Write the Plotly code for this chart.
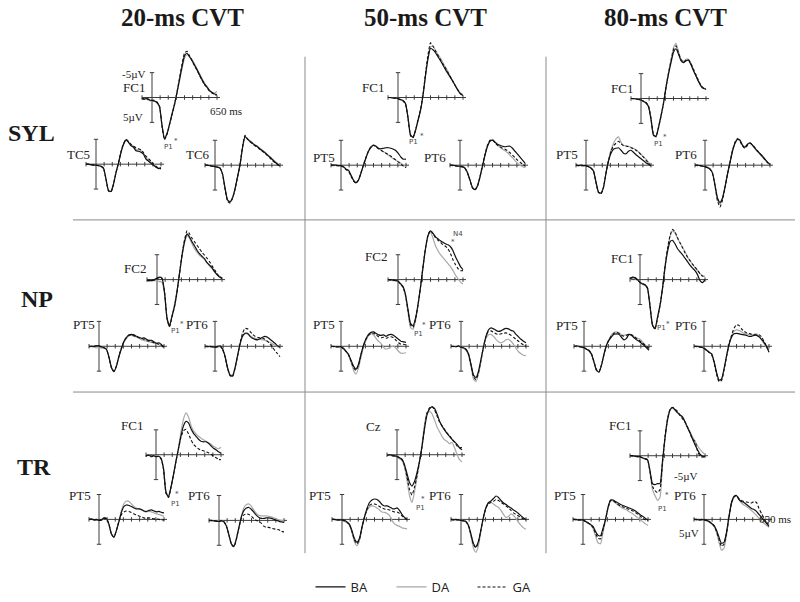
import plotly.graph_objects as go

W, H = 800, 602

TIMES_MS = [-100, -75, -50, -25, 0, 25, 50, 75, 100, 125, 150, 175, 200, 225, 250,
            275, 300, 325, 350, 375, 400, 425, 450, 475, 500, 525, 550, 575, 600, 625, 650]
TICKS_MS = [-100, 81.25, 162.5, 243.75, 325, 406.25, 487.5, 568.75, 650]
CONDITIONS = ["BA", "DA", "GA"]
COLUMNS = ["20-ms CVT", "50-ms CVT", "80-ms CVT"]
ROWS = ["SYL", "NP", "TR"]

# grand-average waveforms in µV (positive plotted downward); each tuple = (BA, DA, GA)
SYL20_FC1 = (
    [0.2, 0.3, 0.2, 0.5, 0.6, 0.7, 1.0, 1.8, 5.6, 8.3, 7.3, 5.4, 3.4, 1.4, -1.0, -3.6, -6.2, -8.4, -8.9, -8.2, -7.4, -6.5, -5.6, -4.6, -3.6, -2.7, -2.1, -1.4, -1.0, -0.7, -0.6],
    [0.3, 0.2, 0.4, 0.6, 0.8, 0.8, 1.1, 1.9, 5.5, 8.0, 7.2, 5.3, 3.2, 1.2, -1.0, -3.4, -5.8, -7.9, -8.6, -8.3, -7.6, -6.8, -5.8, -4.8, -3.8, -2.9, -2.2, -1.5, -1.1, -0.9, -1.2],
    [0.2, 0.4, 0.3, 0.4, 0.5, 0.6, 0.9, 1.7, 5.8, 8.5, 7.4, 5.5, 3.5, 1.5, -1.1, -3.9, -6.7, -8.9, -9.3, -8.4, -7.5, -6.4, -5.5, -4.4, -3.5, -2.6, -2.0, -1.3, -0.9, -0.6, -0.5],
)
SYL20_TC5 = (
    [0.0, 0.0, 0.1, 0.2, 0.2, 0.3, 0.4, 0.8, 3.0, 5.3, 5.5, 4.0, 1.7, -0.2, -2.4, -4.0, -4.9, -4.4, -3.7, -3.4, -2.7, -2.6, -2.4, -2.0, -1.0, -0.6, -0.2, 0.2, 0.6, 0.9, 0.7],
    [0.0, 0.1, 0.1, 0.2, 0.3, 0.3, 0.5, 0.9, 3.1, 5.2, 5.4, 3.9, 1.6, -0.2, -2.3, -3.9, -4.8, -4.5, -3.9, -3.6, -3.0, -2.9, -2.7, -2.2, -1.3, -0.8, -0.4, 0.0, 0.5, 0.8, 0.9],
    [0.0, 0.0, 0.1, 0.1, 0.2, 0.3, 0.4, 0.8, 3.0, 5.4, 5.6, 4.1, 1.7, -0.3, -2.5, -4.1, -5.0, -4.6, -4.0, -3.6, -3.3, -3.1, -2.9, -2.3, -1.6, -1.1, -0.6, 0.0, 0.4, 0.8, 0.9],
)
SYL20_TC6 = (
    [0.0, 0.0, 0.1, 0.2, 0.3, 0.4, 0.6, 1.8, 4.6, 7.0, 7.4, 6.6, 4.8, 2.4, 0.0, -3.5, -5.8, -5.2, -4.8, -4.4, -4.0, -3.7, -3.2, -2.9, -2.5, -2.0, -1.6, -1.1, -0.6, -0.2, 0.1],
    [0.0, 0.1, 0.1, 0.2, 0.3, 0.4, 0.6, 1.7, 4.5, 6.9, 7.3, 6.5, 4.7, 2.3, -0.1, -3.4, -5.6, -5.3, -4.9, -4.5, -4.1, -3.8, -3.4, -3.0, -2.6, -2.1, -1.7, -1.2, -0.8, -0.4, 0.0],
    [0.0, 0.0, 0.1, 0.2, 0.3, 0.4, 0.6, 1.8, 4.7, 7.2, 7.6, 6.7, 4.9, 2.4, -0.1, -3.7, -6.0, -5.3, -4.7, -4.3, -3.9, -3.6, -3.2, -2.8, -2.4, -1.9, -1.4, -0.9, -0.5, -0.1, 0.2],
)
SYL50_FC1 = (
    [0.0, 0.0, 0.1, 0.1, 0.2, 0.4, 0.6, 1.2, 4.0, 7.5, 8.0, 6.6, 4.6, 2.6, -0.4, -4.4, -7.8, -9.9, -9.6, -9.0, -8.2, -7.4, -6.5, -5.6, -4.8, -4.0, -3.2, -2.3, -1.4, -0.7, -0.4],
    [0.0, 0.1, 0.1, 0.1, 0.2, 0.4, 0.6, 1.2, 4.0, 7.6, 8.0, 6.7, 4.7, 2.6, -0.4, -4.4, -8.0, -10.2, -10.3, -9.5, -8.6, -7.9, -7.0, -6.1, -5.2, -4.2, -3.2, -2.3, -1.5, -0.9, -0.6],
    [0.0, 0.0, 0.1, 0.2, 0.3, 0.5, 0.7, 1.3, 4.2, 7.7, 8.1, 6.6, 4.5, 2.4, -0.6, -4.8, -8.6, -11.0, -10.3, -9.4, -8.5, -7.6, -6.7, -5.9, -5.0, -4.1, -3.2, -2.3, -1.5, -0.8, -0.4],
)
SYL50_PT5 = (
    [0.0, 0.0, 0.0, 0.1, 0.1, 0.3, 0.8, 1.0, 2.0, 3.0, 3.5, 3.0, 1.6, 0.0, -1.5, -2.8, -3.6, -4.0, -3.8, -3.4, -3.3, -3.4, -3.5, -3.5, -3.4, -3.2, -2.9, -2.3, -1.6, -1.2, -1.2],
    [0.0, 0.1, 0.0, 0.1, 0.2, 0.3, 0.8, 1.1, 2.1, 3.1, 3.5, 2.9, 1.5, 0.0, -1.5, -2.8, -3.7, -4.1, -3.8, -3.4, -3.0, -2.7, -2.4, -2.0, -1.6, -1.3, -1.0, -0.7, -0.4, 0.0, 0.3],
    [0.0, 0.0, 0.1, 0.1, 0.2, 0.4, 0.9, 1.2, 2.2, 3.2, 3.6, 3.0, 1.5, -0.1, -1.6, -2.9, -3.7, -4.0, -3.7, -3.3, -3.0, -2.7, -2.4, -2.1, -1.8, -1.4, -1.0, -0.6, -0.2, 0.2, 0.5],
)
SYL50_PT6 = (
    [0.0, 0.0, 0.1, 0.2, 0.2, 0.3, 0.6, 1.5, 3.0, 4.5, 4.9, 4.2, 2.4, 0.2, -2.0, -3.8, -4.8, -5.0, -4.6, -4.2, -4.0, -3.8, -3.7, -3.8, -3.8, -3.4, -2.8, -2.2, -1.6, -1.0, -0.4],
    [0.0, 0.0, 0.1, 0.1, 0.2, 0.3, 0.6, 1.5, 3.0, 4.5, 4.8, 4.0, 2.2, 0.1, -2.1, -3.9, -4.9, -5.2, -4.7, -4.1, -3.6, -3.2, -2.9, -2.5, -2.0, -1.5, -0.9, -0.4, 0.0, 0.3, 0.5],
    [0.0, 0.1, 0.1, 0.2, 0.3, 0.4, 0.7, 1.6, 3.1, 4.6, 5.0, 4.2, 2.3, 0.1, -2.2, -4.0, -5.0, -5.1, -4.5, -4.0, -3.7, -3.4, -3.2, -2.9, -2.5, -2.0, -1.5, -1.0, -0.6, -0.2, 0.1],
)
SYL80_FC1 = (
    [0.0, 0.0, 0.1, 0.2, 0.3, 0.6, 0.9, 1.6, 4.2, 7.4, 7.6, 5.8, 3.5, 1.0, -2.2, -4.9, -7.2, -9.3, -10.0, -8.9, -7.6, -7.2, -7.6, -7.7, -6.8, -5.6, -4.5, -3.4, -2.5, -2.0, -1.9],
    [0.0, 0.0, 0.0, 0.1, 0.3, 0.5, 0.9, 1.6, 4.1, 7.3, 7.7, 5.8, 3.4, 0.8, -2.4, -5.2, -7.8, -10.2, -11.1, -9.4, -7.9, -7.5, -7.9, -7.9, -7.0, -5.8, -4.6, -3.5, -2.6, -2.1, -2.0],
    [0.0, 0.1, 0.1, 0.2, 0.3, 0.5, 0.8, 1.5, 4.0, 7.2, 7.7, 5.9, 3.6, 1.0, -2.3, -5.1, -7.6, -9.8, -10.6, -9.2, -7.8, -7.3, -7.7, -7.8, -7.0, -5.9, -4.8, -3.6, -2.6, -2.1, -1.8],
)
SYL80_PT5 = (
    [0.0, 0.1, 0.0, 0.1, 0.1, 0.3, 0.6, 1.2, 3.4, 5.4, 5.6, 4.4, 1.6, -0.8, -2.4, -3.2, -3.4, -3.5, -3.0, -2.4, -2.3, -2.8, -3.0, -2.6, -2.1, -1.7, -1.3, -0.9, -0.5, -0.2, 0.1],
    [0.0, 0.0, 0.1, 0.1, 0.2, 0.3, 0.5, 1.1, 3.3, 5.4, 5.7, 4.4, 1.5, -1.0, -3.0, -4.4, -5.3, -5.7, -4.6, -4.0, -3.9, -3.8, -3.6, -3.4, -3.1, -2.7, -2.2, -1.7, -1.2, -0.6, 0.2],
    [0.0, 0.1, 0.1, 0.1, 0.2, 0.3, 0.6, 1.2, 3.5, 5.5, 5.8, 4.5, 1.6, -0.9, -2.8, -3.9, -4.4, -4.8, -4.3, -3.9, -3.8, -3.7, -3.5, -3.3, -3.0, -2.6, -2.1, -1.6, -1.0, -0.4, 0.2],
)
SYL80_PT6 = (
    [0.0, 0.0, 0.1, 0.2, 0.3, 0.5, 0.8, 1.6, 4.0, 6.6, 7.5, 6.6, 4.4, 1.8, -0.5, -2.8, -4.4, -5.2, -5.0, -4.0, -3.6, -4.2, -4.5, -4.0, -3.4, -2.8, -2.3, -1.8, -1.2, -0.6, -0.1],
    [0.0, 0.0, 0.1, 0.1, 0.3, 0.4, 0.7, 1.5, 3.9, 6.8, 7.8, 6.7, 4.4, 1.7, -0.6, -2.9, -4.5, -5.4, -5.0, -4.1, -3.7, -4.2, -4.5, -4.0, -3.4, -2.8, -2.2, -1.6, -1.0, -0.5, -0.1],
    [0.0, 0.1, 0.1, 0.2, 0.3, 0.5, 0.8, 1.7, 4.2, 7.2, 8.4, 7.0, 4.6, 1.8, -0.6, -3.0, -4.6, -5.3, -4.8, -3.8, -3.4, -4.0, -4.4, -4.1, -3.5, -2.9, -2.3, -1.7, -1.1, -0.5, 0.0],
)
NP20_FC2 = (
    [0.2, 0.1, 0.2, 0.0, -0.3, -0.5, -0.3, 2.5, 7.8, 9.4, 7.4, 5.4, 2.4, -1.2, -4.8, -7.6, -9.2, -8.6, -7.6, -6.8, -5.9, -5.2, -4.7, -4.2, -3.4, -2.9, -2.4, -1.6, -1.0, -0.5, -0.3],
    [0.2, 0.3, 0.2, 0.2, 0.3, 0.4, 0.5, 2.8, 7.6, 9.2, 7.2, 5.0, 2.2, -1.3, -4.8, -7.4, -8.9, -8.3, -7.2, -6.2, -5.5, -4.9, -4.5, -4.0, -3.4, -2.8, -2.2, -1.6, -1.0, -0.6, -0.3],
    [0.1, 0.2, 0.1, 0.1, -0.2, -0.4, -0.2, 2.4, 7.7, 9.5, 7.5, 5.5, 2.6, -1.2, -5.0, -8.0, -9.8, -9.2, -8.3, -7.6, -6.9, -6.2, -5.5, -4.9, -4.3, -3.6, -2.8, -2.0, -1.2, -0.6, -0.2],
)
NP20_PT5 = (
    [0.0, 0.0, 0.0, -0.1, -0.1, 0.1, 0.3, 0.6, 2.2, 4.3, 5.1, 4.0, 2.0, 0.4, -1.0, -1.8, -2.3, -2.4, -2.3, -2.0, -1.8, -1.6, -1.7, -1.4, -1.2, -1.2, -0.9, -0.6, -0.7, -0.3, 0.2],
    [0.0, 0.1, 0.2, 0.3, 0.3, 0.4, 0.4, 0.7, 2.3, 4.2, 4.9, 3.9, 2.0, 0.5, -0.8, -1.6, -2.1, -2.2, -2.0, -1.8, -1.6, -1.3, -1.2, -1.0, -0.9, -0.8, -0.6, -0.5, -0.3, 0.0, 0.3],
    [0.1, 0.0, 0.0, -0.1, 0.0, 0.2, 0.3, 0.6, 2.3, 4.4, 5.0, 3.9, 1.9, 0.3, -1.0, -1.8, -2.2, -2.3, -2.1, -1.9, -1.7, -1.6, -1.4, -1.2, -1.0, -0.9, -0.7, -0.6, -0.4, -0.1, 0.3],
)
NP20_PT6 = (
    [0.0, 0.1, 0.0, 0.1, 0.2, 0.0, -0.1, 0.5, 2.0, 4.3, 5.8, 6.0, 4.4, 2.0, -0.4, -2.0, -2.6, -2.6, -2.0, -1.6, -1.4, -1.3, -1.5, -1.8, -2.0, -1.8, -1.4, -1.0, -0.6, -0.1, 0.2],
    [0.0, 0.1, 0.1, 0.2, 0.3, 0.2, 0.1, 0.6, 2.0, 4.2, 5.7, 5.8, 4.2, 1.9, -0.4, -1.9, -2.5, -2.5, -2.1, -1.8, -1.6, -1.5, -1.4, -1.3, -1.2, -1.0, -0.8, -0.5, -0.2, 0.1, 0.3],
    [0.0, 0.0, 0.1, 0.1, 0.2, 0.1, 0.0, 0.6, 2.1, 4.4, 5.9, 6.1, 4.5, 2.0, -0.6, -2.6, -3.6, -3.5, -3.0, -2.4, -2.0, -1.8, -1.7, -1.6, -1.4, -1.0, -0.5, 0.2, 0.9, 1.5, 2.1],
)
NP50_FC2 = (
    [0.0, 0.0, 0.1, 0.2, 0.3, 0.8, 1.4, 3.0, 6.0, 8.8, 9.3, 7.8, 5.0, 1.5, -2.5, -6.2, -8.8, -9.8, -9.3, -8.6, -8.2, -7.8, -7.5, -7.2, -7.0, -6.6, -5.8, -4.6, -3.6, -2.6, -2.0],
    [0.1, 0.1, 0.2, 0.2, 0.4, 0.9, 1.6, 3.3, 6.6, 9.6, 10.0, 8.3, 5.3, 1.6, -2.5, -6.2, -8.8, -9.6, -8.3, -6.8, -5.8, -5.0, -4.4, -3.8, -3.2, -2.6, -1.8, -0.9, -0.2, 0.5, 0.9],
    [0.0, 0.1, 0.1, 0.2, 0.4, 0.9, 1.5, 3.1, 6.2, 9.1, 9.6, 8.0, 5.1, 1.5, -2.6, -6.4, -9.0, -9.9, -9.2, -8.4, -7.9, -7.5, -7.0, -6.7, -6.2, -5.2, -4.0, -3.0, -2.2, -1.8, -1.8],
)
NP50_PT5 = (
    [0.0, 0.0, 0.1, 0.1, 0.1, 0.4, 1.0, 1.6, 2.8, 4.0, 4.6, 3.6, 1.6, -0.2, -1.5, -2.4, -2.8, -2.9, -2.6, -2.3, -2.2, -2.3, -2.0, -2.3, -2.4, -2.2, -1.8, -1.4, -1.0, -0.9, -0.8],
    [0.0, 0.1, 0.1, 0.2, 0.3, 0.6, 1.1, 1.8, 3.2, 4.8, 5.6, 4.4, 2.2, 0.2, -1.2, -2.1, -2.5, -2.3, -1.6, -1.0, -0.6, 0.2, 0.6, 0.4, 0.1, 0.0, 0.4, 1.0, 1.4, 1.4, 1.3],
    [0.0, 0.1, 0.1, 0.1, 0.2, 0.5, 1.0, 1.7, 3.0, 4.3, 4.8, 3.8, 1.7, -0.2, -1.4, -2.2, -2.6, -2.6, -2.3, -1.9, -1.7, -1.8, -1.6, -1.8, -1.9, -1.7, -1.2, -0.7, -0.4, -0.4, -0.3],
)
NP50_PT6 = (
    [0.0, 0.0, 0.1, -0.1, 0.2, 0.3, 0.6, 1.5, 3.6, 5.8, 6.3, 5.0, 2.6, 0.1, -2.0, -3.3, -3.7, -3.5, -3.2, -3.0, -3.1, -3.4, -3.6, -3.5, -3.2, -3.0, -2.4, -1.9, -1.4, -1.0, -0.7],
    [0.0, 0.0, 0.1, 0.0, 0.2, 0.4, 0.8, 1.8, 4.1, 6.6, 7.1, 5.6, 3.0, 0.2, -1.6, -2.3, -2.4, -2.0, -1.4, -0.9, -0.7, -0.9, -1.3, -1.4, -1.0, -0.4, 0.4, 1.1, 1.5, 1.8, 1.9],
    [0.0, 0.1, 0.1, 0.0, 0.2, 0.3, 0.7, 1.6, 3.8, 6.1, 6.7, 5.3, 2.8, 0.1, -2.0, -3.0, -3.1, -2.8, -2.5, -2.4, -2.5, -2.6, -2.7, -2.5, -2.2, -1.8, -1.4, -1.0, -0.6, -0.3, 0.0],
)
NP80_FC1 = (
    [-0.2, -0.5, -0.4, 0.0, 0.6, 0.9, 1.1, 1.8, 5.4, 9.2, 9.9, 7.6, 5.2, 1.8, -2.4, -5.6, -7.6, -7.9, -7.2, -6.2, -5.6, -5.0, -4.3, -3.6, -2.9, -2.3, -1.8, -1.0, 0.2, 0.6, 0.0],
    [-0.1, -0.3, -0.2, 0.1, 0.5, 0.8, 1.0, 1.6, 5.0, 8.9, 9.8, 7.6, 5.1, 1.6, -2.6, -6.1, -8.6, -9.8, -9.4, -8.3, -7.4, -6.5, -5.6, -4.6, -3.8, -3.1, -2.4, -1.8, -1.2, -0.8, -0.6],
    [-0.2, -0.4, -0.3, 0.1, 0.5, 0.8, 1.0, 1.7, 5.2, 9.1, 10.0, 7.8, 5.3, 1.8, -2.6, -6.2, -8.8, -10.1, -9.6, -8.4, -7.4, -6.4, -5.4, -4.5, -3.8, -3.1, -2.5, -1.9, -1.2, -0.7, -0.5],
)
NP80_PT5 = (
    [0.0, -0.1, 0.0, 0.2, 0.3, 0.6, 0.9, 1.6, 3.2, 4.8, 5.2, 3.8, 1.6, -0.2, -1.2, -1.9, -2.4, -2.5, -2.4, -1.8, -1.3, -1.6, -2.4, -2.2, -1.7, -1.3, -1.0, -0.6, -0.2, 0.3, 0.8],
    [0.0, 0.1, 0.1, 0.2, 0.3, 0.6, 0.9, 1.6, 3.2, 4.9, 5.2, 3.8, 1.6, -0.3, -1.4, -2.3, -2.8, -2.9, -2.7, -2.3, -2.2, -2.3, -2.4, -2.2, -1.9, -1.7, -1.5, -1.1, -0.5, 0.0, 0.4],
    [0.0, 0.0, 0.1, 0.1, 0.3, 0.5, 0.8, 1.5, 3.1, 4.7, 5.1, 3.7, 1.6, -0.2, -1.3, -2.1, -2.6, -2.8, -2.6, -2.2, -2.0, -2.2, -2.4, -2.3, -2.0, -1.6, -1.2, -0.8, -0.4, 0.0, 0.4],
)
NP80_PT6 = (
    [0.0, 0.0, 0.1, 0.2, 0.4, 0.8, 1.2, 1.5, 3.0, 5.2, 6.8, 6.6, 4.6, 2.0, -0.3, -1.8, -2.5, -2.6, -2.5, -2.4, -2.3, -2.2, -2.0, -2.0, -2.2, -2.2, -1.9, -1.4, -0.8, 0.0, 1.2],
    [0.0, 0.0, 0.1, 0.2, 0.3, 0.7, 1.1, 1.5, 3.1, 5.4, 6.9, 6.7, 4.7, 2.0, -0.4, -2.0, -3.0, -3.3, -3.2, -2.9, -2.6, -2.5, -2.4, -2.3, -2.4, -2.5, -2.1, -1.3, -0.5, 0.2, 0.7],
    [0.0, 0.1, 0.1, 0.2, 0.4, 0.8, 1.2, 1.6, 3.2, 5.6, 7.1, 6.9, 4.8, 2.1, -0.4, -2.2, -3.6, -4.3, -4.2, -3.5, -3.0, -2.7, -2.6, -2.4, -2.3, -2.3, -2.3, -1.9, -1.0, 0.0, 1.0],
)
TR20_FC1 = (
    [0.2, 0.1, 0.3, 0.2, 0.4, 0.3, 0.7, 2.8, 7.6, 8.5, 6.5, 4.0, 1.3, -1.2, -3.8, -5.8, -6.7, -6.4, -5.2, -4.3, -3.7, -3.1, -2.7, -2.6, -2.6, -2.3, -1.8, -1.3, -1.0, -0.6, -0.3],
    [0.1, 0.0, 0.2, 0.1, 0.2, 0.3, 0.7, 2.7, 7.4, 8.4, 6.4, 4.0, 1.2, -1.5, -4.6, -7.2, -8.4, -7.6, -5.9, -4.8, -4.2, -3.7, -3.3, -3.0, -2.7, -2.4, -2.1, -1.7, -1.4, -1.2, -1.5],
    [0.3, 0.1, 0.4, 0.3, 0.3, 0.4, 0.8, 2.9, 7.7, 8.6, 6.6, 4.0, 1.3, -1.2, -3.6, -4.8, -5.1, -4.2, -3.0, -2.1, -1.6, -1.2, -0.9, -0.8, -0.6, -0.4, -0.1, 0.3, 0.6, 0.9, 1.0],
)
TR20_PT5 = (
    [0.0, -0.1, 0.1, 0.0, 0.2, 0.1, -0.3, -0.2, 1.0, 3.0, 3.6, 2.2, 0.4, -1.5, -2.6, -2.9, -2.8, -2.6, -2.3, -2.1, -2.1, -2.0, -1.7, -1.6, -1.8, -1.9, -1.7, -1.5, -1.6, -1.4, -1.3],
    [0.1, 0.0, 0.1, 0.1, 0.2, 0.2, -0.2, -0.2, 1.0, 2.9, 3.5, 2.1, 0.3, -1.8, -3.2, -3.7, -3.6, -3.1, -2.6, -2.3, -2.1, -1.9, -1.6, -1.5, -1.6, -1.5, -1.3, -1.1, -1.0, -0.8, -0.6],
    [0.0, 0.0, 0.1, 0.1, 0.2, 0.1, -0.2, -0.1, 1.1, 3.0, 3.5, 2.1, 0.3, -1.0, -1.5, -1.7, -1.6, -1.4, -1.1, -0.9, -0.7, -0.5, -0.3, -0.2, -0.3, -0.2, -0.1, -0.1, 0.0, 0.1, 0.1],
)
TR20_PT6 = (
    [0.0, 0.0, 0.1, 0.2, 0.2, 0.1, 0.3, 1.2, 3.0, 4.8, 5.2, 3.6, 1.4, -0.8, -2.0, -2.5, -2.6, -2.2, -1.6, -1.0, -0.6, -0.4, -0.4, -0.5, -0.5, -0.4, -0.2, 0.0, 0.2, 0.3, 0.4],
    [0.0, 0.0, 0.1, 0.1, 0.1, 0.0, 0.3, 1.1, 2.9, 4.7, 5.1, 3.5, 1.2, -1.0, -2.6, -3.2, -3.3, -2.8, -2.0, -1.4, -1.0, -0.9, -0.9, -0.9, -0.8, -0.7, -0.5, -0.3, -0.1, 0.0, 0.1],
    [0.0, 0.1, 0.1, 0.1, 0.2, 0.1, 0.3, 1.2, 3.0, 4.9, 5.3, 3.7, 1.4, -0.5, -1.1, -1.3, -1.2, -0.8, -0.3, 0.0, 0.2, 0.6, 1.2, 1.4, 1.4, 1.6, 1.7, 1.8, 1.9, 2.2, 2.3],
)
TR50_CZ = (
    [0.1, 0.0, 0.1, 0.2, 0.3, 0.6, 0.9, 2.0, 3.8, 5.6, 6.3, 5.4, 3.6, 1.3, -1.6, -5.2, -8.0, -9.2, -9.6, -9.3, -8.2, -6.8, -5.8, -5.0, -4.3, -3.7, -3.1, -2.6, -2.1, -1.4, -1.0],
    [0.1, 0.1, 0.2, 0.3, 0.4, 0.8, 1.2, 2.5, 5.2, 8.2, 9.6, 7.5, 4.6, 1.5, -2.0, -6.0, -8.4, -8.7, -8.2, -7.0, -5.6, -4.6, -3.7, -3.0, -2.7, -2.2, -2.5, -1.4, -0.1, 1.0, 1.4],
    [0.1, 0.0, 0.2, 0.3, 0.4, 0.7, 1.0, 2.2, 4.4, 7.0, 8.1, 6.5, 4.2, 1.5, -1.6, -5.4, -8.4, -9.4, -9.7, -9.0, -7.8, -6.6, -5.8, -5.1, -4.4, -3.8, -3.2, -2.5, -1.8, -1.4, -1.5],
)
TR50_PT5 = (
    [0.0, 0.0, 0.1, 0.1, 0.1, 0.2, 0.5, 1.0, 2.3, 3.9, 4.6, 3.8, 1.5, -0.5, -2.2, -3.4, -3.9, -4.1, -4.0, -3.6, -3.0, -2.7, -2.7, -2.5, -2.2, -2.1, -2.3, -1.8, -1.0, -0.4, 0.0],
    [0.0, 0.1, 0.1, 0.1, 0.2, 0.4, 0.7, 1.2, 2.6, 4.5, 5.3, 4.2, 1.7, -0.4, -1.8, -2.5, -2.7, -2.6, -2.3, -1.9, -1.5, -1.4, -1.2, -0.8, 0.2, 0.9, 1.2, 1.4, 1.7, 1.8, 1.9],
    [0.0, 0.0, 0.1, 0.1, 0.2, 0.3, 0.6, 1.1, 2.5, 4.2, 4.9, 4.0, 1.6, -0.5, -2.0, -2.8, -3.1, -3.1, -2.9, -2.6, -2.3, -2.1, -2.0, -1.9, -1.7, -1.5, -1.5, -1.2, -0.7, -0.3, 0.0],
)
TR50_PT6 = (
    [0.0, 0.1, 0.0, 0.1, 0.2, 0.3, 0.4, 1.2, 3.0, 4.9, 5.5, 4.4, 2.0, -0.5, -2.4, -3.4, -3.7, -4.2, -4.7, -4.4, -3.8, -3.3, -3.0, -2.6, -2.3, -1.9, -1.6, -1.2, -0.7, -0.3, 0.0],
    [0.0, 0.0, 0.1, 0.1, 0.2, 0.3, 0.5, 1.4, 3.4, 5.8, 6.6, 5.2, 2.3, -0.4, -2.3, -3.3, -3.4, -3.1, -2.7, -2.4, -1.8, -1.0, -0.4, -0.6, -1.1, -0.8, -0.2, 0.6, 1.2, 1.7, 2.0],
    [0.0, 0.1, 0.1, 0.1, 0.2, 0.3, 0.5, 1.3, 3.1, 5.1, 5.7, 4.5, 2.0, -0.5, -2.3, -3.2, -3.4, -3.6, -4.0, -3.8, -3.4, -3.1, -2.7, -2.3, -1.8, -1.3, -1.0, -0.7, -0.4, -0.1, 0.2],
)
TR80_FC1 = (
    [0.0, 0.0, 0.1, 0.2, 0.2, 0.4, 0.6, 0.8, 3.0, 5.6, 5.8, 5.6, 5.6, 1.0, -3.6, -7.2, -9.2, -9.7, -9.2, -8.6, -8.2, -7.8, -6.8, -5.6, -4.6, -3.4, -2.2, -1.2, -0.3, 0.1, 0.2],
    [0.0, 0.0, 0.1, 0.2, 0.3, 0.5, 0.7, 0.9, 3.4, 6.8, 8.0, 9.0, 8.4, 1.8, -3.4, -7.0, -9.1, -9.6, -9.3, -8.8, -8.2, -7.6, -6.8, -5.8, -4.8, -3.8, -2.9, -2.0, -1.3, -0.7, -0.3],
    [0.0, 0.1, 0.1, 0.2, 0.3, 0.4, 0.6, 0.8, 3.2, 6.2, 7.0, 7.4, 6.8, 1.3, -3.8, -7.4, -9.3, -9.7, -9.4, -8.9, -8.1, -7.4, -6.8, -5.8, -4.6, -3.3, -2.9, -1.0, 0.1, 0.3, 0.2],
)
TR80_PT5 = (
    [0.0, 0.0, 0.1, 0.1, 0.1, 0.4, 0.7, 1.0, 1.4, 2.4, 3.2, 3.3, 1.8, 0.0, -2.4, -3.9, -3.9, -3.6, -3.3, -3.0, -2.8, -2.6, -2.4, -2.2, -2.0, -1.7, -1.3, -0.9, -0.6, -0.2, 0.2],
    [0.0, 0.0, 0.1, 0.1, 0.2, 0.4, 0.8, 1.1, 1.8, 3.3, 4.7, 4.9, 2.6, 0.3, -2.2, -3.7, -3.7, -3.3, -2.9, -2.5, -2.2, -2.0, -1.7, -1.4, -1.1, -0.7, -0.3, 0.1, 0.5, 0.9, 1.2],
    [0.0, 0.1, 0.1, 0.1, 0.2, 0.4, 0.7, 1.0, 1.6, 2.8, 3.8, 3.9, 2.1, 0.1, -2.3, -3.8, -3.8, -3.4, -3.0, -2.7, -2.5, -2.3, -2.1, -1.9, -1.7, -1.4, -1.0, -0.6, -0.2, 0.1, 0.3],
)
TR80_PT6 = (
    [0.0, 0.0, 0.1, 0.0, 0.1, 0.2, 0.4, 0.8, 1.2, 2.2, 3.6, 4.8, 4.6, 2.6, -0.6, -3.4, -4.6, -4.8, -4.0, -3.6, -3.4, -3.0, -2.6, -2.2, -2.0, -1.6, -1.0, -0.4, 0.2, 0.8, 1.4],
    [0.0, 0.0, 0.0, 0.1, 0.2, 0.3, 0.5, 0.9, 1.4, 2.6, 4.6, 6.2, 5.8, 3.2, -0.3, -3.2, -4.4, -4.7, -4.0, -3.3, -2.9, -2.6, -2.2, -1.8, -1.3, -0.8, -0.2, 0.3, 0.8, 1.2, 1.6],
    [0.0, 0.1, 0.1, 0.1, 0.1, 0.2, 0.4, 0.8, 1.3, 2.4, 4.0, 5.4, 5.0, 2.8, -0.5, -3.3, -4.5, -4.8, -4.2, -3.8, -3.6, -3.5, -3.4, -3.3, -3.6, -3.4, -2.2, -1.2, -0.2, 0.6, 1.0],
)

# placement of each mini plot: data, electrode, origin (px), label offset (px)
PLOTS = [
    (SYL20_FC1, "FC1", 152, 98, -5, -10), (SYL20_TC5, "TC5", 96, 165, -4, -10), (SYL20_TC6, "TC6", 215, 166, -3, -11),
    (SYL50_FC1, "FC1", 398, 98, -12, -10), (SYL50_PT5, "PT5", 341, 166, -4, -8), (SYL50_PT6, "PT6", 460, 166, -12, -8),
    (SYL80_FC1, "FC1", 641, 99, -6, -10), (SYL80_PT5, "PT5", 586, 166, -6, -11), (SYL80_PT6, "PT6", 705, 166, -6, -11),
    (NP20_FC2, "FC2", 157, 281, -9, -11), (NP20_PT5, "PT5", 99, 348, -2, -22), (NP20_PT6, "PT6", 215, 348, -5, -22),
    (NP50_FC2, "FC2", 398, 281, -9, -23), (NP50_PT5, "PT5", 341, 348, -4, -22), (NP50_PT6, "PT6", 461, 348, -8, -22),
    (NP80_FC1, "FC1", 640, 281, -5, -21), (NP80_PT5, "PT5", 584, 348, -4, -21), (NP80_PT6, "PT6", 704, 348, -5, -21),
    (TR20_FC1, "FC1", 156, 457, -11, -29), (TR20_PT5, "PT5", 99, 522, -6, -24), (TR20_PT6, "PT6", 219, 523, -7, -25),
    (TR50_CZ, "Cz", 397, 457, -14, -28), (TR50_PT5, "PT5", 342, 522, -9, -24), (TR50_PT6, "PT6", 461, 522, -8, -24),
    (TR80_FC1, "FC1", 640, 458, -7, -30), (TR80_PT5, "PT5", 583, 522, -5, -24), (TR80_PT6, "PT6", 704, 522, -6, -24),
]

# P1 / N4 markers (px)
PEAK_LABELS = [("P1", 168, 148), ("P1", 413, 143), ("P1", 658, 145), ("P1", 175, 333), ("P1", 418, 336),
               ("N4", 458, 235), ("P1", 661, 330), ("P1", 175, 507), ("P1", 420, 511), ("P1", 662, 512)]
STARS = [(176, 142), (422, 137), (665, 138), (182, 326), (424, 327), (453, 243), (668, 326), (177, 496), (423, 501), (667, 497)]

STYLE = {"BA": dict(color="#111111", width=1.2),
         "DA": dict(color="#a8a8a8", width=1.2),
         "GA": dict(color="#111111", width=1.1, dash="3px,2px")}
SERIF = "Liberation Serif, Times New Roman, serif"

fig = go.Figure()
layout = {}

for i, (waves, elec, ox, oy, ldx, ldy) in enumerate(PLOTS, start=1):
    sfx = "" if i == 1 else str(i)
    xr, yr = "x" + sfx, "y" + sfx
    layout["xaxis" + sfx] = dict(domain=[(ox - 14) / W, (ox + 72) / W], range=[-140, 720],
                                 visible=False, fixedrange=True, anchor=yr)
    layout["yaxis" + sfx] = dict(domain=[1 - (oy + 65) / H, 1 - (oy - 65) / H], range=[13, -13],
                                 visible=False, fixedrange=True, anchor=xr)
    # axis cross: time axis with ticks, ±5 µV bar with caps
    fx, fy = [-100, 680, None], [0, 0, None]
    for t in TICKS_MS:
        fx += [t, t, None]
        fy += [-0.45, 0.45, None]
    fx += [0, 0, None, -22, 22, None, -22, 22]
    fy += [-5, 5, None, -5, -5, None, 5, 5]
    fig.add_trace(go.Scatter(x=fx, y=fy, xaxis=xr, yaxis=yr, mode="lines",
                             line=dict(color="#3c3c3c", width=1), showlegend=False, hoverinfo="skip"))
    for cond in ["DA", "BA", "GA"]:
        vals = waves[CONDITIONS.index(cond)]
        fig.add_trace(go.Scatter(x=TIMES_MS, y=vals, xaxis=xr, yaxis=yr, mode="lines",
                                 line=dict(shape="spline", smoothing=0.5, **STYLE[cond]),
                                 name=cond, legendgroup=cond, showlegend=False))
    fig.add_annotation(x=(ox + ldx) / W, y=1 - (oy + ldy) / H, xref="paper", yref="paper",
                       text=elec, showarrow=False, xanchor="right", yanchor="middle",
                       font=dict(family=SERIF, size=13, color="#222"))

# legend entries
for cond in ["BA", "DA", "GA"]:
    fig.add_trace(go.Scatter(x=[None], y=[None], mode="lines", line=STYLE[cond], name=cond,
                             legendgroup=cond, showlegend=True))

ann = []
for k, title in enumerate(COLUMNS):
    ann.append(dict(x=[182, 425, 665][k] / W, y=1 - 18 / H, text="<b>%s</b>" % title,
                    font=dict(family=SERIF, size=25, color="#1a1a1a")))
for k, row in enumerate(ROWS):
    ann.append(dict(x=[31, 37, 34][k] / W, y=1 - [134, 300, 469][k] / H, text="<b>%s</b>" % row,
                    font=dict(family=SERIF, size=24, color="#1a1a1a")))
for txt, x, y in [("-5µV", 134, 74), ("5µV", 133, 118), ("650 ms", 226, 112),
                  ("-5µV", 686, 478), ("5µV", 689, 536), ("650 ms", 775, 522)]:
    ann.append(dict(x=x / W, y=1 - y / H, text=txt, font=dict(family=SERIF, size=11, color="#222")))
for txt, x, y in PEAK_LABELS:
    ann.append(dict(x=x / W, y=1 - y / H, text=txt, font=dict(family="DejaVu Sans", size=7, color="#444")))
for x, y in STARS:
    ann.append(dict(x=x / W, y=1 - y / H, text="*", font=dict(family="DejaVu Sans", size=7, color="#444")))
for a in ann:
    a.update(xref="paper", yref="paper", showarrow=False, xanchor="center", yanchor="middle")
    fig.add_annotation(**a)

shapes = []
for x in [305, 546]:
    shapes.append(dict(type="line", xref="paper", yref="paper", x0=x / W, x1=x / W,
                       y0=1 - 57 / H, y1=1 - 556 / H, line=dict(color="#8a8a8a", width=1)))
for y in [221, 394]:
    shapes.append(dict(type="line", xref="paper", yref="paper", x0=73 / W, x1=795 / W,
                       y0=1 - y / H, y1=1 - y / H, line=dict(color="#8a8a8a", width=1)))

fig.update_layout(
    width=W, height=H, margin=dict(l=0, r=0, t=0, b=0),
    paper_bgcolor="white", plot_bgcolor="rgba(0,0,0,0)",
    shapes=shapes,
    legend=dict(orientation="h", x=0.54, xanchor="center", y=1 - 590 / H, yanchor="middle",
                font=dict(family="Open Sans, DejaVu Sans, sans-serif", size=13, color="#222"),
                entrywidth=36, bgcolor="rgba(0,0,0,0)"),
    **layout,
)

fig.write_html("out.html", config={"displayModeBar": False},
               post_script="document.body.style.margin='0';")
